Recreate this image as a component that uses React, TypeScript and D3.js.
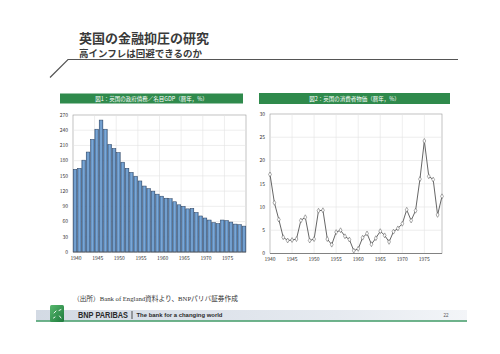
import React from "react";
import * as d3 from "d3";

const years: number[] = d3.range(1940, 1980);
const debtValues: number[] = [
  163, 165, 181, 197, 222, 242, 260, 242, 212, 204,
  196, 177, 165, 157, 149, 140, 130, 125, 120, 114,
  110, 106, 105, 99, 93, 90, 85, 86, 78, 71,
  67, 63, 58, 56, 63, 62, 59, 55, 54, 51,
];
const cpiValues: number[] = [
  17.0, 10.9, 7.3, 3.5, 2.8, 2.9, 3.1, 7.1, 7.8, 2.8,
  3.1, 9.2, 9.3, 3.1, 1.9, 4.6, 5.0, 3.7, 3.0, 0.6,
  1.0, 3.4, 4.3, 2.0, 3.3, 4.8, 3.9, 2.5, 4.7, 5.4,
  6.4, 9.4, 7.1, 9.2, 16.0, 24.2, 16.6, 15.9, 8.3, 12.3,
];
const debtTicks: number[] = d3.range(0, 271, 30);
const cpiTicks: number[] = d3.range(0, 31, 5);
const yearTicks: number[] = [1940, 1945, 1950, 1955, 1960, 1965, 1970, 1975];

const title = "英国の金融抑圧の研究";
const subtitle = "高インフレは回避できるのか";
const chart1Title = "図1：英国の政府債務／名目GDP（暦年，%）";
const chart2Title = "図2：英国の消費者物価（暦年，%）";
const sourceText = "（出所）Bank of England資料より、BNPパリバ証券作成";

const JP = "'Noto Sans CJK JP', 'Noto Sans', sans-serif";
const SERIF = "'Liberation Serif', 'Noto Sans CJK JP', serif";
const SANS = "'Liberation Sans', Arial, sans-serif";

export default function App() {
  // Left chart
  const L = { x0: 73, x1: 246, y0: 115, y1: 252 };
  const xb = d3.scaleBand<number>().domain(years).range([L.x0, L.x1]).paddingInner(0.15).paddingOuter(0.05);
  const yb = d3.scaleLinear().domain([0, 270]).range([L.y1, L.y0]);

  // Right chart
  const R = { x0: 270, x1: 442, y0: 114, y1: 253.5 };
  const xp = d3.scaleLinear().domain([1940, 1979]).range([R.x0, R.x1]);
  const yp = d3.scaleLinear().domain([0, 30]).range([R.y1, R.y0]);
  const line = d3.line<number>().x((_, i) => xp(years[i])).y((d) => yp(d));

  const step = xb.step();
  const gap = (step - xb.bandwidth()) / 2;

  return (
    <svg width={500} height={354} style={{ position: "absolute", left: 0, top: 0, background: "#fff" }}>
      <defs>
        <linearGradient id="barg" x1="0" x2="1" y1="0" y2="0">
          <stop offset="0" stopColor="#4f7fb3" />
          <stop offset="0.5" stopColor="#7fabd9" />
          <stop offset="1" stopColor="#4f7fb3" />
        </linearGradient>
        <linearGradient id="footg" x1="0" x2="1" y1="0" y2="0">
          <stop offset="0" stopColor="#d3dae4" />
          <stop offset="0.7" stopColor="#e6eaf0" />
          <stop offset="1" stopColor="#f3f5f8" />
        </linearGradient>
        <linearGradient id="logog" x1="0" x2="1" y1="0" y2="1">
          <stop offset="0" stopColor="#58b86e" />
          <stop offset="1" stopColor="#1d7a3c" />
        </linearGradient>
      </defs>
      <rect width={500} height={354} fill="#fff" />

      {/* Header */}
      <text x={79} y={43} fontFamily={JP} fontSize={13} fontWeight="bold" fill="#3a3a3a">{title}</text>
      <text x={79} y={56.5} fontFamily={JP} fontSize={9.5} fontWeight="bold" fill="#3a3a3a">{subtitle}</text>
      <path d="M50,77.5 L68,59.5 L458,59.5" fill="none" stroke="#555" strokeWidth={1.2} />

      {/* Banners */}
      <rect x={60} y={93.5} width={183} height={10} fill="#2f8a4c" />
      <text x={151.5} y={101} textAnchor="middle" fontFamily={JP} fontSize={5.5} fill="#fff">{chart1Title}</text>
      <rect x={259} y={93} width={191} height={11} fill="#2f8a4c" />
      <text x={354.5} y={101} textAnchor="middle" fontFamily={JP} fontSize={5.5} fill="#fff">{chart2Title}</text>

      {/* Left chart */}
      <rect x={L.x0} y={L.y0} width={L.x1 - L.x0} height={L.y1 - L.y0} fill="#fff" stroke="#999" strokeWidth={0.6} />
      {debtTicks.slice(1, -1).map((t) => (
        <line key={"lg" + t} x1={L.x0} x2={L.x1} y1={yb(t)} y2={yb(t)} stroke="#e2e2e2" strokeWidth={0.6} />
      ))}
      {yearTicks.slice(1).map((t) => (
        <line key={"lv" + t} x1={(xb(t) as number) - gap} x2={(xb(t) as number) - gap} y1={L.y0} y2={L.y1} stroke="#e2e2e2" strokeWidth={0.6} />
      ))}
      {debtValues.map((v, i) => (
        <rect key={"b" + i} x={xb(years[i])} y={yb(v)} width={xb.bandwidth()} height={L.y1 - yb(v)} fill="url(#barg)" stroke="#2a3f5c" strokeWidth={0.5} />
      ))}
      <line x1={L.x0} x2={L.x1} y1={L.y1} y2={L.y1} stroke="#666" strokeWidth={0.7} />
      {debtTicks.map((t) => (
        <text key={"lt" + t} x={L.x0 - 5} y={yb(t) + 1.8} textAnchor="end" fontFamily={JP} fontSize={5} fill="#333">{t}</text>
      ))}
      {yearTicks.map((t) => (
        <text key={"lx" + t} x={(xb(t) as number) + xb.bandwidth() / 2 + 1} y={L.y1 + 8} textAnchor="middle" fontFamily={JP} fontSize={5} fill="#333">{t}</text>
      ))}

      {/* Right chart */}
      <rect x={R.x0} y={R.y0} width={R.x1 - R.x0} height={R.y1 - R.y0} fill="#fff" stroke="#999" strokeWidth={0.6} />
      {cpiTicks.slice(1, -1).map((t) => (
        <line key={"rg" + t} x1={R.x0} x2={R.x1} y1={yp(t)} y2={yp(t)} stroke="#e2e2e2" strokeWidth={0.6} />
      ))}
      {yearTicks.slice(1).map((t) => (
        <line key={"rv" + t} x1={xp(t)} x2={xp(t)} y1={R.y0} y2={R.y1} stroke="#e2e2e2" strokeWidth={0.6} />
      ))}
      <path d={line(cpiValues) || ""} fill="none" stroke="#555" strokeWidth={0.9} />
      {cpiValues.map((v, i) => (
        <path key={"m" + i} d={d3.symbol(d3.symbolDiamond, 7)() || ""} transform={`translate(${xp(years[i])},${yp(v)})`} fill="#fff" stroke="#555" strokeWidth={0.5} />
      ))}
      <line x1={R.x0} x2={R.x1} y1={R.y1} y2={R.y1} stroke="#666" strokeWidth={0.7} />
      {cpiTicks.map((t) => (
        <text key={"rt" + t} x={R.x0 - 5} y={yp(t) + 1.8} textAnchor="end" fontFamily={JP} fontSize={5} fill="#333">{t}</text>
      ))}
      {yearTicks.map((t) => (
        <text key={"rx" + t} x={xp(t)} y={R.y1 + 7.5} textAnchor="middle" fontFamily={JP} fontSize={5} fill="#333">{t}</text>
      ))}

      {/* Footer */}
      <text x={73} y={300.5} fontFamily={SERIF} fontSize={6.7} fill="#333">{sourceText}</text>
      <rect x={36} y={310} width={431} height={10.5} fill="url(#footg)" />
      <line x1={36} x2={467} y1={321} y2={321} stroke="#3f9a66" strokeWidth={1.6} />
      <rect x={50} y={305} width={14} height={17} rx={1.5} fill="url(#logog)" />
      <g stroke="#fff" strokeWidth={0.9} strokeLinecap="round">
        <line x1={56} x2={54} y1={311} y2={313} />
        <line x1={59} x2={61} y1={310.5} y2={309.5} />
        <line x1={55} x2={53.5} y1={317} y2={318} />
        <line x1={59.5} x2={61} y1={316} y2={318} />
      </g>
      <text x={78} y={318} fontFamily={SANS} fontSize={9} fontWeight="bold" fill="#2a2a2a" textLength={50} lengthAdjust="spacingAndGlyphs">BNP PARIBAS</text>
      <line x1={132} x2={132} y1={311} y2={319} stroke="#2a2a2a" strokeWidth={0.8} />
      <text x={136.5} y={317} fontFamily={SANS} fontSize={4.6} fontWeight="bold" fill="#2a2a2a" textLength={86} lengthAdjust="spacingAndGlyphs">The bank for a changing world</text>
      <text x={446} y={316.5} textAnchor="middle" fontFamily={SANS} fontSize={4.5} fill="#555">22</text>
    </svg>
  );
}
